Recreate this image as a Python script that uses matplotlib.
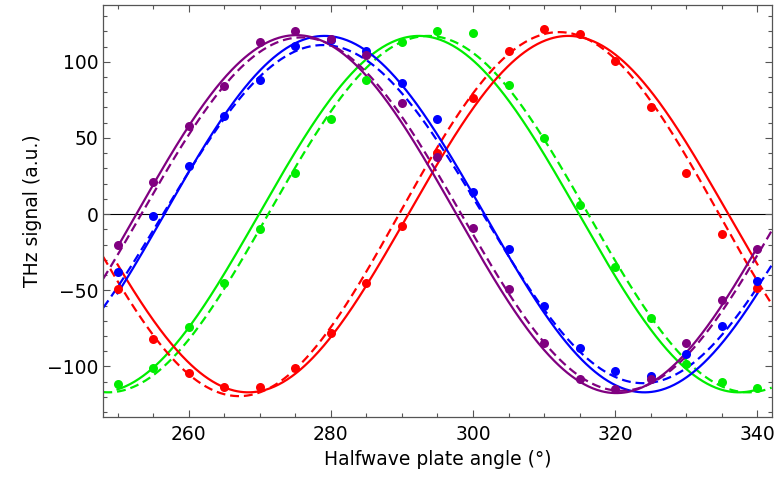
import numpy as np
import matplotlib
matplotlib.use("Agg")
from matplotlib import pyplot as plt
from matplotlib.ticker import MultipleLocator

# measured angles (deg) and THz signal (a.u.)
angle = [250, 255, 260, 265, 270, 275, 280, 285, 290, 295,
         300, 305, 310, 315, 320, 325, 330, 335, 340]

purple_pts = [-20, 21, 58, 84, 113, 120, 115, 104.6, 72.9, 37.4,
              -8.8, -49.2, -84.3, -108.4, -114.9, -108.4, -84.3, -56.3, -23]
blue_pts = [-38.1, -1.1, 31.9, 64.1, 88, 110.5, 114, 107.4, 86, 62.4,
            14.8, -23, -60.2, -88, -103.3, -106.2, -91.9, -73.3, -43.8]
green_pts = [-111.4, -101.1, -74.2, -44.9, -9.9, 26.9, 62.4, 88.2, 113.3, 120,
             119.2, 84.9, 50.3, 6.1, -35, -67.9, -98.3, -110.3, -114.3]
red_pts = [-49, -81.9, -104.4, -113.2, -113.2, -101.1, -78.1, -45.3, -8.1, 40.4,
           76.2, 107.2, 121.4, 118.2, 100.2, 70.2, 26.9, -13.1, -48.2]

# fit parameters: amplitude, rising zero crossing (deg); signal ~ A sin(4(theta - theta0))
purple_fit = (117.5, 252.65)
purple_fit2 = (116.0, 253.35)
blue_fit = (117.0, 256.6)
blue_fit2 = (111.0, 256.4)
green_fit = (117.0, 269.9)
green_fit2 = (117.0, 271.2)
red_fit = (117.0, 290.9)
red_fit2 = (119.5, 289.6)

colors = {"purple": (0.5, 0, 0.5), "blue": (0, 0, 1), "green": (0, 0.93, 0), "red": (1, 0, 0)}

plt.rcParams["font.family"] = ["DejaVu Sans"]
fig = plt.figure(figsize=(7.79, 4.88), dpi=100)
ax = fig.add_axes([0.1326, 0.1461, 0.858, 0.8443])

theta_full = np.linspace(248, 342, 600)          # dashed fits span the whole axis
theta_data = np.linspace(angle[0], angle[-1], 600)  # solid fits only over the data


def sine(t, p):
    amp, t0 = p
    return amp * np.sin(np.radians(4 * (t - t0)))


ax.axhline(0, color="black", lw=0.8, zorder=1)

series = [("green", green_pts, green_fit, green_fit2),
          ("red", red_pts, red_fit, red_fit2),
          ("blue", blue_pts, blue_fit, blue_fit2),
          ("purple", purple_pts, purple_fit, purple_fit2)]

for name, pts, fit, fit2 in series:
    c = colors[name]
    ax.plot(theta_data, sine(theta_data, fit), color=c, lw=1.6, zorder=2)
    ax.plot(theta_full, sine(theta_full, fit2), color=c, lw=1.6, dashes=(4, 2.2), zorder=2)
for name, pts, fit, fit2 in series:
    ax.plot(angle, pts, "o", color=colors[name], ms=6.5, mec="none", zorder=3)

ax.set_xlim(248, 342)
ax.set_ylim(-133, 137.5)
ax.xaxis.set_major_locator(MultipleLocator(20))
ax.xaxis.set_minor_locator(MultipleLocator(5))
ax.yaxis.set_major_locator(MultipleLocator(50))
ax.yaxis.set_minor_locator(MultipleLocator(10))
ax.tick_params(which="both", direction="in", top=True, right=True,
               color="#555555", labelsize=13.5, width=0.8)
ax.tick_params(which="major", length=5)
ax.tick_params(which="minor", length=3)
ax.tick_params(axis="x", pad=6)
for s in ax.spines.values():
    s.set_color("#555555")
    s.set_linewidth(0.9)

ax.set_xlabel("Halfwave plate angle (°)", fontsize=13.5, labelpad=4)
ax.set_ylabel("THz signal (a.u.)", fontsize=13.5, labelpad=4)

fig.savefig("out.png", dpi=100)
